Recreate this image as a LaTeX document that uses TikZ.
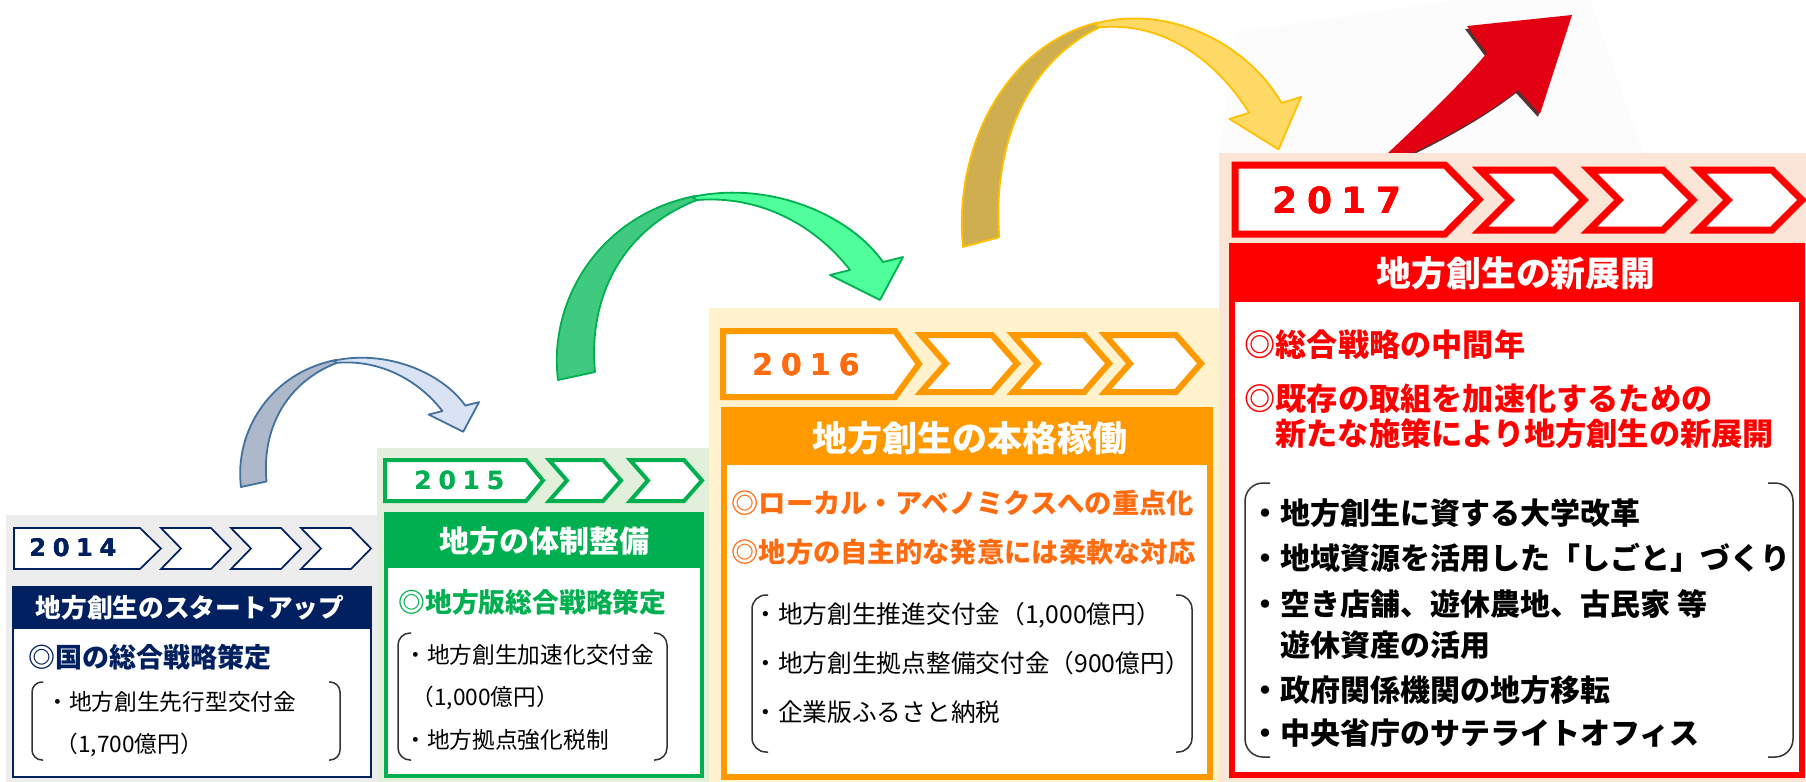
\documentclass[tikz,border=0pt]{standalone}
\usepackage{fontspec}
\setmainfont{Noto Sans CJK JP}
\newfontfamily\yearfont{DejaVu Sans}
\usetikzlibrary{calc}

\definecolor{navy14}{RGB}{0,32,96}
\definecolor{green15}{RGB}{0,176,80}
\definecolor{orange16}{RGB}{255,153,0}
\definecolor{text16}{RGB}{255,108,16}
\definecolor{red17}{RGB}{255,0,0}
\definecolor{bg14}{RGB}{237,237,237}
\definecolor{bg15}{RGB}{226,239,218}
\definecolor{bg16}{RGB}{255,242,204}
\definecolor{bg17}{RGB}{251,229,214}
\definecolor{line14}{RGB}{65,113,156}
\definecolor{back14}{RGB}{173,185,202}
\definecolor{front14}{RGB}{218,227,243}
\definecolor{back15}{RGB}{63,202,127}
\definecolor{front15}{RGB}{80,255,155}
\definecolor{line16}{RGB}{255,192,0}
\definecolor{back16}{RGB}{207,174,80}
\definecolor{front16}{RGB}{255,217,102}
\definecolor{upred}{RGB}{227,0,18}

\newcommand\fsz[1]{\fontsize{#1pt}{#1pt}\selectfont}
\newcommand\yeardigits[4]{#1\hspace{.27em}#2\hspace{.27em}#3\hspace{.27em}#4}

% first arrow of a year bar: style, left, top, right, tip, bottom
\newcommand\pent[6]{\draw[#1] (#2,#3) -- (#4,#3) -- (#5,{(#3+#6)/2}) -- (#4,#6) -- (#2,#6) -- cycle;}
% chevron: style, left, top, straight part, depth, bottom
\newcommand\chev[6]{\draw[#1] (#2,#3) -- ({#2+#4},#3) -- ({#2+#4+#5},{(#3+#6)/2}) -- ({#2+#4},#6) -- (#2,#6) -- ({#2+#5},{(#3+#6)/2}) -- cycle;}
% bracket pair: left, right, top, bottom, stub, radius
\newcommand\brackets[6]{%
  \draw[brk, rounded corners=#6] ({#1+#5},#3) -- (#1,#3) -- (#1,#4) -- ({#1+#5},#4);
  \draw[brk, rounded corners=#6] ({#2-#5},#3) -- (#2,#3) -- (#2,#4) -- ({#2-#5},#4);}
% curved ribbon arrow: tail x, tail y, xscale, yscale, back, front, line
\newcommand\swoosh[7]{%
  \begin{scope}[shift={(#1,#2)}, xscale=#3, yscale=#4]
    \filldraw[swline, draw=#7, fill=#5] (0,0) .. controls (-10,-80) and (42,-165) .. (137,-184)
      -- (139,-180) .. controls (62,-150) and (30,-80) .. (37,-8) -- cycle;
    \filldraw[swline, draw=#7, fill=#6] (134,-183) .. controls (212,-200) and (292,-165) .. (325,-118)
      -- (345,-123) -- (322,-80) -- (272,-105) -- (292,-110)
      .. controls (257,-155) and (202,-185) .. (139,-180) -- cycle;
  \end{scope}}

\begin{document}
\begin{tikzpicture}[
    x=0.5pt, y=-0.5pt,
    yr/.style={anchor=west, inner sep=0},
    hdr/.style={inner sep=0, text=white},
    lead/.style={anchor=west, inner sep=0},
    item/.style={anchor=west, inner sep=0, text=black},
    brk/.style={draw=black!80, line width=0.75pt},
    swline/.style={line width=0.9pt, line join=round}
]
\useasboundingbox (0,0) rectangle (1806,782);

% backgrounds
\fill[white] (0,0) rectangle (1806,782);
\fill[black!1.2] (1237,32) -- (1460,0) -- (1590,0) -- (1643,153) -- (1219,153) -- cycle;
\fill[bg14] (6,515) rectangle (377,782);
\fill[bg15] (377,448) rectangle (709,782);
\fill[bg16] (709,308) rectangle (1219,782);
\fill[bg17] (1219,153) rectangle (1806,782);

% rising arrow
\fill[black!70!red!60!black, opacity=0.8, shift={(-2,3)}] (1388,153) .. controls (1425,118) and (1460,85) .. (1487,53)
  -- (1467,26) -- (1572,15) -- (1540,114) -- (1518,90)
  .. controls (1490,112) and (1450,135) .. (1412,153) -- cycle;
\fill[upred] (1388,153) .. controls (1425,118) and (1460,85) .. (1487,53)
  -- (1467,26) -- (1572,15) -- (1540,114) -- (1518,90)
  .. controls (1490,112) and (1450,135) .. (1412,153) -- cycle;
\fill[bg17] (1360,153) rectangle (1450,160);

% year to year arrows
\swoosh{241}{487}{0.69}{0.69}{back14}{front14}{line14}
\swoosh{558}{380}{1}{1}{back15}{front15}{green15}
\swoosh{963}{247}{0.98}{1.22}{back16}{front16}{line16}

% 2014
\pent{draw=navy14, fill=white, line width=0.85pt}{14}{528}{140}{161}{569}
\foreach \a in {161,231,301}
  \chev{draw=navy14, fill=white, line width=0.85pt}{\a}{528}{50}{20}{569}
\node[yr, text=navy14, font=\yearfont\bfseries\fsz{12.1}] (yr14) at (29,548) {\yeardigits2014};
\filldraw[fill=white, draw=navy14, line width=0.85pt] (13,587) rectangle (371,777);
\fill[navy14] (13,587) rectangle (371,629);
\node[hdr, font=\fsz{12.85}\bfseries] (hdr14) at (190,608) {地方創生のスタートアップ};
\node[lead, text=navy14, font=\fsz{13.5}\bfseries] (lead14) at (28,657) {◎国の総合戦略策定};
\brackets{32}{340}{682}{760}{11}{5pt}
\node[item, font=\fsz{11.35}] (it14a) at (46,702) {・地方創生先行型交付金};
\node[item, font=\fsz{11.35}] (it14b) at (55,745) {（1,700億円）};

% 2015
\pent{draw=green15, fill=white, line width=2pt}{385}{460}{526}{543}{501}
\foreach \a in {549,630}
  \chev{draw=green15, fill=white, line width=2pt}{\a}{460}{54}{18}{501}
\node[yr, text=green15, font=\yearfont\bfseries\fsz{12.5}] (yr15) at (414,480) {\yeardigits2015};
\filldraw[fill=white, draw=green15, line width=2pt] (386,514) rectangle (702,776);
\fill[green15] (385,513) rectangle (703,568);
\node[hdr, font=\fsz{15}\bfseries] (hdr15) at (544,541) {地方の体制整備};
\node[lead, text=green15, font=\fsz{13.4}\bfseries] (lead15) at (398,602) {◎地方版総合戦略策定};
\brackets{398}{667}{633}{760}{13}{6pt}
\node[item, font=\fsz{11.35}] (it15a) at (404,655) {・地方創生加速化交付金};
\node[item, font=\fsz{11.35}] (it15b) at (411,698) {（1,000億円）};
\node[item, font=\fsz{11.35}] (it15c) at (404,740) {・地方拠点強化税制};

% 2016
\pent{draw=orange16, fill=white, line width=3pt}{723}{331}{895}{919}{397}
\foreach \a in {921,1013,1105}
  \chev{draw=orange16, fill=white, line width=3pt}{\a}{335}{71}{25}{392}
\node[yr, text=text16, font=\yearfont\bfseries\fsz{14.9}] (yr16) at (752,365) {\yeardigits2016};
\filldraw[fill=white, draw=orange16, line width=3pt] (724,410) rectangle (1210,777);
\fill[orange16] (722,408) rectangle (1212,465);
\node[hdr, font=\fsz{17.5}\bfseries] (hdr16) at (970,438) {地方創生の本格稼働};
\node[lead, text=text16, font=\fsz{13.65}\bfseries] (lead16a) at (731,503) {◎ローカル・アベノミクスへの重点化};
\node[lead, text=text16, font=\fsz{13.65}\bfseries] (lead16b) at (731,552) {◎地方の自主的な発意には柔軟な対応};
\brackets{752}{1192}{595}{752}{16}{7pt}
\node[item, font=\fsz{12.35}] (it16a) at (753,615) {・地方創生推進交付金（1,000億円）};
\node[item, font=\fsz{12.35}] (it16b) at (753,663) {・地方創生拠点整備交付金（900億円）};
\node[item, font=\fsz{12.35}] (it16c) at (753,712) {・企業版ふるさと納税};

% 2017
\pent{draw=red17, fill=white, line width=3.5pt}{1235}{165}{1445}{1479}{234}
\foreach \a in {1480,1589,1698}
  \chev{draw=red17, fill=white, line width=3.5pt}{\a}{170}{74}{30}{230}
\node[yr, text=red17, font=\yearfont\bfseries\fsz{18}] (yr17) at (1272,200) {\yeardigits2017};
\filldraw[fill=white, draw=red17, line width=3.25pt] (1232,246) rectangle (1802,775);
\fill[red17] (1229,243) rectangle (1804,302);
\node[hdr, font=\fsz{17.4}\bfseries] (hdr17) at (1516,273) {地方創生の新展開};
\node[lead, text=red17, font=\fsz{15.6}\bfseries] (lead17a) at (1244,345) {◎総合戦略の中間年};
\node[lead, text=red17, font=\fsz{15.6}\bfseries] (lead17b) at (1244,399) {◎既存の取組を加速化するための};
\node[lead, text=red17, font=\fsz{15.6}\bfseries] (lead17c) at (1275,434) {新たな施策により地方創生の新展開};
\brackets{1245}{1793}{483}{757}{25}{9pt}
\node[item, font=\fsz{15}\bfseries] (it17a) at (1250,513) {・地方創生に資する大学改革};
\node[item, font=\fsz{15}\bfseries] (it17b) at (1250,558) {・地域資源を活用した「しごと」づくり};
\node[item, font=\fsz{15}\bfseries] (it17c) at (1250,604) {・空き店舗、遊休農地、古民家 等};
\node[item, font=\fsz{15}\bfseries] (it17d) at (1280,645) {遊休資産の活用};
\node[item, font=\fsz{15}\bfseries] (it17e) at (1250,690) {・政府関係機関の地方移転};
\node[item, font=\fsz{15}\bfseries] (it17f) at (1250,733) {・中央省庁のサテライトオフィス};
\end{tikzpicture}
\end{document}
